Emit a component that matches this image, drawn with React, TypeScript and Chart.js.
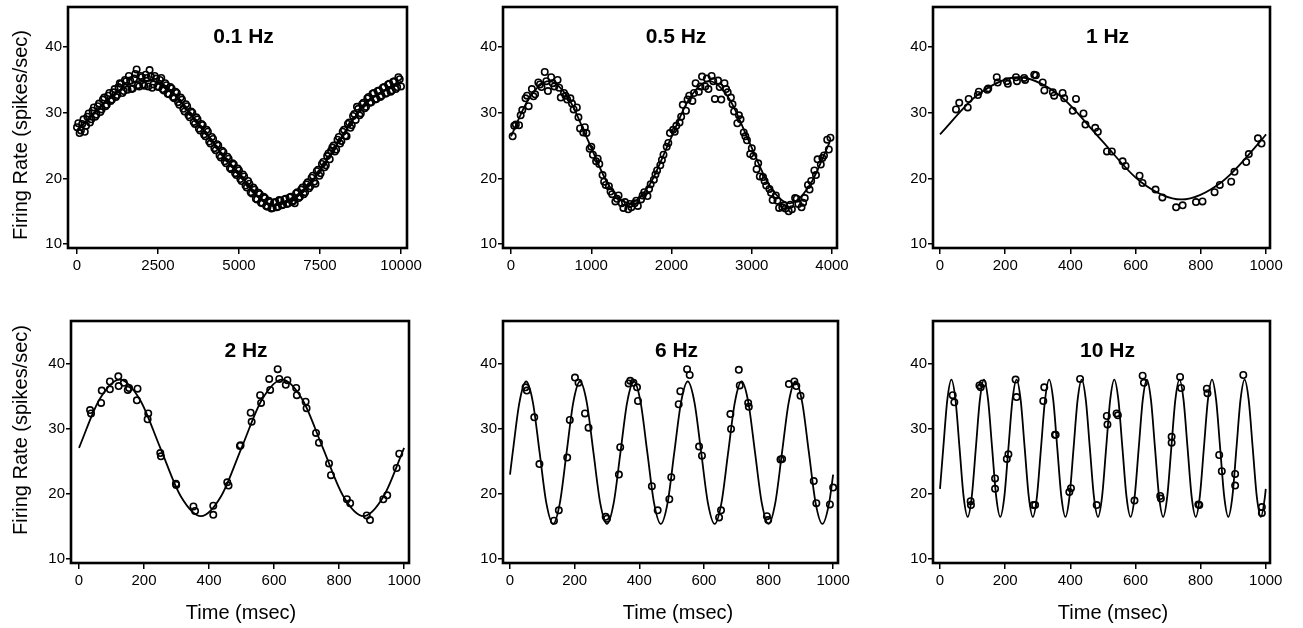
import React, { useEffect, useRef } from "react";
import { Chart, registerables } from "chart.js";

Chart.register(...registerables);

const FONT = '"Liberation Sans", Arial, Helvetica, sans-serif';

// ---------- tick labels, titles ----------
const yTicks = [10, 20, 30, 40];
const xTicks01 = [0, 2500, 5000, 7500, 10000];
const xTicks05 = [0, 1000, 2000, 3000, 4000];
const xTicks1000 = [0, 200, 400, 600, 800, 1000];
const panelTitles = ["0.1 Hz", "0.5 Hz", "1 Hz", "2 Hz", "6 Hz", "10 Hz"];
const yAxisTitle = "Firing Rate (spikes/sec)";
const xAxisTitle = "Time (msec)";

// ---------- 0.1 Hz ----------
const fit01 = [[0,27.3],[500,29.8],[1000,32.1],[1500,34.0],[2000,34.9],[2500,34.7],[3000,32.9],[3500,29.8],[4000,26.8],[4500,23.5],[5000,20.7],[5500,17.6],[6000,15.85],[6500,16.4],[7000,18.1],[7500,21.2],[8000,25.0],[8500,28.8],[9000,31.9],[9500,33.4],[10000,34.7]];
const rate01 = [[0,27.8],[80,26.9],[160,28.3],[240,27.1],[320,29.4],[400,28.5],[480,30.3],[560,29.4],[640,31.0],[720,30.1],[800,32.0],[880,31.0],[960,32.6],[1040,31.8],[1120,33.1],[1200,32.4],[1280,33.9],[1360,34.4],[1440,33.3],[1520,34.8],[1600,35.6],[1680,33.6],[1760,35.2],[1840,36.6],[1920,34.0],[2000,35.4],[2080,34.1],[2160,35.3],[2240,36.5],[2320,33.8],[2400,35.6],[2480,34.0],[2560,35.0],[2640,33.6],[2720,34.5],[2800,32.9],[2880,33.9],[2960,32.4],[3040,33.2],[3120,31.6],[3200,32.3],[3280,30.6],[3360,31.3],[3440,29.6],[3520,30.2],[3600,28.6],[3680,29.3],[3760,27.6],[3840,28.3],[3920,26.7],[4000,27.4],[4080,25.6],[4160,26.3],[4240,24.6],[4320,25.2],[4400,23.5],[4480,24.2],[4560,22.6],[4640,23.3],[4720,21.6],[4800,22.3],[4880,20.8],[4960,21.5],[5040,19.9],[5120,20.6],[5200,18.9],[5280,19.6],[5360,17.9],[5440,18.6],[5520,16.9],[5600,17.8],[5680,16.3],[5760,17.2],[5840,15.8],[5920,16.6],[6000,15.4],[6080,16.3],[6160,15.6],[6240,16.7],[6320,15.9],[6400,16.8],[6480,16.1],[6560,17.1],[6640,16.4],[6720,16.2],[6800,17.9],[6880,17.2],[6960,18.6],[7040,17.9],[7120,19.4],[7200,18.8],[7280,20.4],[7360,19.2],[7440,21.3],[7520,20.8],[7600,22.5],[7680,22.0],[7760,23.8],[7840,24.2],[7920,25.0],[8000,24.4],[8080,26.3],[8160,25.7],[8240,27.4],[8320,26.4],[8400,28.5],[8480,28.1],[8560,29.8],[8640,30.9],[8720,29.6],[8800,31.3],[8880,30.7],[8960,32.2],[9040,31.5],[9120,32.9],[9200,32.0],[9280,33.3],[9360,32.4],[9440,33.8],[9520,32.9],[9600,34.3],[9680,33.2],[9760,34.7],[9840,33.6],[9920,35.4],[10000,34.0],
[40,28.4],[120,27.3],[200,29.0],[280,28.0],[360,29.9],[440,29.0],[520,30.8],[600,29.7],[680,31.4],[760,30.5],[840,32.3],[920,31.2],[1000,33.0],[1080,32.0],[1160,33.6],[1240,32.7],[1320,34.5],[1400,33.0],[1480,35.0],[1560,33.5],[1640,34.9],[1720,33.7],[1800,35.9],[1880,34.2],[1960,35.6],[2040,34.3],[2120,35.8],[2200,34.0],[2280,35.5],[2360,34.3],[2440,35.2],[2520,33.9],[2600,35.3],[2680,33.4],[2760,34.2],[2840,32.8],[2920,33.7],[3000,32.2],[3080,33.0],[3160,31.2],[3240,32.0],[3320,30.2],[3400,31.0],[3480,29.3],[3560,30.0],[3640,28.3],[3720,29.0],[3800,27.3],[3880,28.1],[3960,26.4],[4040,27.1],[4120,25.3],[4200,26.0],[4280,24.3],[4360,25.0],[4440,23.2],[4520,24.0],[4600,22.3],[4680,23.0],[4760,21.4],[4840,22.1],[4920,20.5],[5000,21.2],[5080,19.6],[5160,20.3],[5240,18.6],[5320,19.2],[5400,17.7],[5480,18.3],[5560,16.8],[5640,17.6],[5720,16.2],[5800,17.0],[5880,15.7],[5960,16.4],[6040,15.5],[6120,16.4],[6200,15.7],[6280,16.6],[6360,16.0],[6440,16.9],[6520,16.2],[6600,17.2],[6680,16.6],[6760,17.7],[6840,17.0],[6920,18.3],[7000,17.6],[7080,19.1],[7160,18.5],[7240,20.1],[7320,19.5],[7400,21.1],[7480,20.4],[7560,22.2],[7640,21.7],[7720,23.4],[7800,22.9],[7880,24.7],[7960,24.1],[8040,25.9],[8120,25.3],[8200,27.1],[8280,26.5],[8360,28.3],[8440,27.7],[8520,29.5],[8600,28.9],[8680,30.6],[8760,29.9],[8840,31.5],[8920,30.9],[9000,32.4],[9080,31.6],[9160,33.0],[9240,32.1],[9320,33.4],[9400,32.6],[9480,33.9],[9560,33.0],[9640,34.4],[9720,33.4],[9800,34.8],[9880,33.9],[9960,35.1]];

// ---------- 0.5 Hz ----------
const fit05 = [[0,26.4],[220,32.1],[470,34.8],[720,32.1],[970,25.5],[1220,18.9],[1470,16.2],[1720,18.9],[1970,25.5],[2220,32.1],[2470,34.8],[2720,32.1],[2970,25.5],[3220,18.9],[3470,16.2],[3720,18.9],[3970,25.5]];
const rate05 = [[20,26.4],[60,28.2],[100,28.1],[140,30.4],[180,32.2],[220,31.0],[260,33.6],[300,32.8],[340,34.6],[380,33.9],[420,36.2],[460,33.3],[500,35.4],[540,34.0],[580,35.0],[620,32.3],[660,33.0],[700,32.0],[740,32.2],[780,30.5],[820,30.8],[860,27.6],[900,27.0],[940,26.9],[980,24.5],[1020,23.6],[1060,22.6],[1100,22.2],[1140,20.5],[1180,19.0],[1220,18.8],[1260,17.6],[1300,16.5],[1340,17.4],[1380,16.2],[1420,16.4],[1460,15.3],[1500,15.6],[1540,16.2],[1580,15.8],[1620,16.8],[1660,17.9],[1700,17.3],[1740,19.1],[1780,19.8],[1820,21.2],[1860,22.0],[1900,23.6],[1940,24.8],[1980,26.9],[2020,27.4],[2060,28.0],[2100,28.5],[2140,31.2],[2180,30.3],[2220,32.6],[2260,31.8],[2300,34.5],[2340,33.2],[2380,35.5],[2420,34.0],[2460,33.6],[2500,35.6],[2540,32.1],[2580,34.9],[2620,32.0],[2660,34.5],[2700,33.1],[2740,32.3],[2780,30.2],[2820,28.4],[2860,29.0],[2900,27.0],[2940,25.8],[2980,23.7],[3020,23.4],[3060,21.4],[3100,20.3],[3140,20.2],[3180,18.9],[3220,18.4],[3260,16.7],[3300,17.4],[3340,15.5],[3380,15.6],[3420,15.4],[3460,15.0],[3500,15.3],[3540,17.0],[3580,16.1],[3620,15.6],[3660,17.0],[3700,19.0],[3740,19.6],[3780,21.2],[3820,22.9],[3860,22.1],[3900,23.5],[3940,25.9],[3980,26.2],
[40,28.0],[120,29.6],[200,32.6],[280,32.5],[360,34.3],[440,34.8],[520,34.5],[600,33.8],[680,32.6],[760,31.4],[840,29.3],[920,27.8],[1000,24.8],[1080,23.0],[1160,19.5],[1240,18.0],[1320,16.9],[1400,15.5],[1480,16.1],[1560,16.6],[1640,17.4],[1720,18.4],[1800,20.6],[1880,22.8],[1960,25.4],[2040,27.1],[2120,29.4],[2200,32.0],[2280,33.0],[2360,34.0],[2440,35.2],[2520,34.8],[2600,33.9],[2680,33.6],[2760,31.3],[2840,29.6],[2920,26.4],[3000,24.6],[3080,22.3],[3160,19.6],[3240,17.8],[3320,16.6],[3400,15.9],[3480,16.0],[3560,16.9],[3640,16.3],[3720,18.3],[3800,20.5],[3880,23.1],[3960,24.4]];

// ---------- 1 Hz ----------
const fit1 = [[0,26.7],[115,32.7],[240,35.4],[365,32.7],[490,26.1],[615,19.5],[740,16.8],[865,19.5],[990,26.1],[1000,26.7]];
const rate1 = [[49,30.5],[59,31.5],[85,30.8],[88,32.1],[116,32.7],[119,33.2],[145,33.5],[148,33.7],[174,35.4],[177,34.6],[205,34.8],[208,34.4],[233,35.4],[236,34.8],[258,35.3],[261,35.0],[289,35.8],[294,35.7],[315,34.6],[320,33.4],[346,33.1],[350,32.6],[376,33.0],[381,32.2],[407,30.3],[417,32.1],[440,29.9],[446,28.2],[476,27.7],[484,27.1],[512,24.1],[527,24.1],[560,22.6],[569,21.9],[612,20.4],[621,19.3],[661,18.3],[682,17.1],[724,15.6],[744,15.9],[785,16.4],[805,16.5],[842,17.9],[858,19.0],[893,19.5],[903,21.0],[939,22.5],[947,23.7],[975,26.1],[986,25.3]];

// ---------- 2 Hz ----------
const fit2 = [[0,27.1],[62.5,34.5],[125,37.6],[187.5,34.5],[250,27.1],[312.5,19.7],[375,16.6],[437.5,19.7],[500,27.1],[562.5,34.5],[625,37.6],[687.5,34.5],[750,27.1],[812.5,19.7],[875,16.6],[937.5,19.7],[1000,27.1]];
const rate2 = [[34,32.9],[37,32.4],[68,34.0],[70,35.9],[95,37.3],[95,36.1],[121,38.1],[122,36.6],[138,37.1],[150,36.0],[154,36.3],[180,36.2],[178,34.4],[213,32.4],[211,31.5],[250,26.3],[252,25.8],[298,21.6],[299,21.4],[352,18.1],[357,17.4],[413,18.2],[413,16.8],[456,21.8],[460,21.3],[495,27.4],[497,27.5],[528,32.5],[531,31.1],[557,35.2],[560,34.0],[585,37.7],[588,36.0],[611,39.2],[616,37.7],[636,36.8],[641,37.5],[668,36.3],[670,35.2],[697,34.2],[700,33.2],[729,29.4],[738,27.9],[769,24.7],[775,22.9],[824,19.2],[834,18.6],[885,16.7],[895,16.0],[936,19.2],[948,19.8],[977,24.0],[985,26.2]];

// ---------- 6 Hz ----------
const fit6 = [[0,23.0],[8.3,26.35],[29.2,34.1],[50,37.3],[70.8,34.1],[91.7,26.35],[112.5,18.6],[133.3,15.4],[154.2,18.6],
[175,26.35],[195.8,34.1],[216.7,37.3],[237.5,34.1],[258.3,26.35],[279.2,18.6],[300,15.4],[320.8,18.6],
[341.7,26.35],[362.5,34.1],[383.3,37.3],[404.2,34.1],[425,26.35],[445.8,18.6],[466.7,15.4],[487.5,18.6],
[508.3,26.35],[529.2,34.1],[550,37.3],[570.8,34.1],[591.7,26.35],[612.5,18.6],[633.3,15.4],[654.2,18.6],
[675,26.35],[695.8,34.1],[716.7,37.3],[737.5,34.1],[758.3,26.35],[779.2,18.6],[800,15.4],[820.8,18.6],
[841.7,26.35],[862.5,34.1],[883.3,37.3],[904.2,34.1],[925,26.35],[945.8,18.6],[966.7,15.4],[987.5,18.6],[1000,23.0]];
const rate6 = [[48,36.4],[52,35.9],[75,31.8],[91,24.6],[136,15.9],[151,17.5],[177,25.6],[185,31.4],[201,37.9],[212,37.1],[232,32.4],[243,30.2],[296,16.5],[300,16.2],[337,23.0],[341,27.2],[367,37.0],[372,37.4],[382,37.1],[393,36.4],[396,34.3],[439,21.2],[457,17.5],[493,19.2],[499,22.6],[522,33.8],[527,35.8],[548,39.2],[556,38.3],[585,27.3],[594,25.9],[647,16.4],[653,17.5],[682,32.3],[684,30.0],[708,39.1],[711,36.7],[737,34.0],[739,33.4],[795,16.6],[799,16.0],[837,25.3],[842,25.4],[863,36.9],[880,37.3],[886,36.6],[899,35.1],[940,22.0],[948,18.6],[990,18.4],[1000,21.0]];

// ---------- 10 Hz ----------
const fit10 = [[0,20.8],
[10,27.05],[22.5,34.5],[35,37.6],[47.5,34.5],[60,27.05],[72.5,19.6],[85,16.5],[97.5,19.6],
[110,27.05],[122.5,34.5],[135,37.6],[147.5,34.5],[160,27.05],[172.5,19.6],[185,16.5],[197.5,19.6],
[210,27.05],[222.5,34.5],[235,37.6],[247.5,34.5],[260,27.05],[272.5,19.6],[285,16.5],[297.5,19.6],
[310,27.05],[322.5,34.5],[335,37.6],[347.5,34.5],[360,27.05],[372.5,19.6],[385,16.5],[397.5,19.6],
[410,27.05],[422.5,34.5],[435,37.6],[447.5,34.5],[460,27.05],[472.5,19.6],[485,16.5],[497.5,19.6],
[510,27.05],[522.5,34.5],[535,37.6],[547.5,34.5],[560,27.05],[572.5,19.6],[585,16.5],[597.5,19.6],
[610,27.05],[622.5,34.5],[635,37.6],[647.5,34.5],[660,27.05],[672.5,19.6],[685,16.5],[697.5,19.6],
[710,27.05],[722.5,34.5],[735,37.6],[747.5,34.5],[760,27.05],[772.5,19.6],[785,16.5],[797.5,19.6],
[810,27.05],[822.5,34.5],[835,37.6],[847.5,34.5],[860,27.05],[872.5,19.6],[885,16.5],[897.5,19.6],
[910,27.05],[922.5,34.5],[935,37.6],[947.5,34.5],[960,27.05],[972.5,19.6],[985,16.5],[997.5,19.6],[1000,20.8]];
const rate10 = [[39,35.2],[44,34.1],[94,18.9],[95,18.3],[121,36.7],[125,36.4],[131,37.0],[169,22.4],[169,20.8],[205,25.4],[210,26.1],[232,37.6],[235,34.9],[287,18.3],[292,18.3],[317,34.3],[320,36.4],[353,29.1],[355,29.1],[397,20.3],[402,20.9],[430,37.7],[481,18.3],[512,32.0],[514,30.7],[542,32.4],[546,32.1],[597,19.0],[622,38.2],[626,37.1],[676,19.7],[678,19.3],[711,28.8],[711,27.9],[737,38.0],[740,36.3],[793,18.4],[796,18.3],[819,36.2],[821,35.5],[857,26.0],[865,23.5],[906,23.1],[906,21.3],[931,38.3],[988,18.0],[988,17.1]];

// ---------- layout (frame rectangles in page pixels) ----------
type Box = { l: number; t: number; r: number; b: number };
const panels: { box: Box; xMin: number; xMax: number; yMin: number; yMax: number; xTicks: number[]; fit: number[][]; pts: number[][] }[] = [
  { box: { l: 68, t: 7, r: 407, b: 248 }, xMin: -278, xMax: 10185, yMin: 9.4, yMax: 46.1, xTicks: xTicks01, fit: fit01, pts: rate01 },
  { box: { l: 503, t: 7, r: 837, b: 248 }, xMin: -100, xMax: 4062, yMin: 9.4, yMax: 46.1, xTicks: xTicks05, fit: fit05, pts: rate05 },
  { box: { l: 933, t: 7, r: 1270, b: 248 }, xMin: -21.5, xMax: 1012, yMin: 9.4, yMax: 46.1, xTicks: xTicks1000, fit: fit1, pts: rate1 },
  { box: { l: 71, t: 321, r: 409, b: 563 }, xMin: -24.6, xMax: 1015, yMin: 9.4, yMax: 46.6, xTicks: xTicks1000, fit: fit2, pts: rate2 },
  { box: { l: 503, t: 321, r: 838, b: 563 }, xMin: -21.7, xMax: 1015, yMin: 9.4, yMax: 46.6, xTicks: xTicks1000, fit: fit6, pts: rate6 },
  { box: { l: 933, t: 321, r: 1270, b: 563 }, xMin: -21.5, xMax: 1013, yMin: 9.4, yMax: 46.6, xTicks: xTicks1000, fit: fit10, pts: rate10 },
];

const AXW = 60;
const AXH = 40;
const PT = 6;
const PR = 28;

function Panel(props: { idx: number }) {
  const p = panels[props.idx];
  const title = panelTitles[props.idx];
  const ref = useRef<HTMLCanvasElement>(null);
  const w = p.box.r - p.box.l + AXW + PR;
  const h = p.box.b - p.box.t + PT + AXH;

  useEffect(() => {
    const framePlugin = {
      id: "frameAndTitle",
      afterDatasetsDraw(chart: any) {
        const { ctx, chartArea: a } = chart;
        ctx.save();
        ctx.strokeStyle = "#000";
        ctx.lineWidth = 2.6;
        ctx.strokeRect(a.left, a.top, a.right - a.left, a.bottom - a.top);
        ctx.fillStyle = "#000";
        ctx.font = `bold 21px ${FONT}`;
        ctx.textAlign = "center";
        ctx.textBaseline = "middle";
        ctx.fillText(title, (a.left + a.right) / 2 + 6, a.top + 30);
        ctx.restore();
      },
    };
    const tickFont = { family: FONT, size: 15 };
    const chart = new Chart(ref.current as HTMLCanvasElement, {
      type: "scatter",
      data: {
        datasets: [
          {
            type: "line",
            data: p.fit.map(([x, y]) => ({ x, y })),
            borderColor: "#000",
            borderWidth: 1.8,
            pointRadius: 0,
            cubicInterpolationMode: "monotone",
            fill: false,
            order: 1,
          } as any,
          {
            type: "scatter",
            data: p.pts.map(([x, y]) => ({ x, y })),
            pointRadius: 3.2,
            pointBorderWidth: 1.6,
            pointBorderColor: "#000",
            pointBackgroundColor: "rgba(0,0,0,0)",
            borderColor: "#000",
            backgroundColor: "rgba(0,0,0,0)",
            order: 0,
          } as any,
        ],
      },
      options: {
        animation: false,
        responsive: false,
        devicePixelRatio: 1,
        events: [],
        layout: { padding: { top: PT, right: PR, left: 0, bottom: 0 } },
        plugins: { legend: { display: false }, tooltip: { enabled: false }, title: { display: false } },
        scales: {
          x: {
            type: "linear",
            min: p.xMin,
            max: p.xMax,
            afterBuildTicks: (s: any) => {
              s.ticks = p.xTicks.map((v) => ({ value: v }));
            },
            afterFit: (s: any) => {
              s.height = AXH;
              s.paddingLeft = 0;
              s.paddingRight = 0;
            },
            grid: { drawOnChartArea: false, drawTicks: true, tickLength: 6, color: "#000", lineWidth: 1.5 },
            border: { display: false },
            ticks: { color: "#000", font: tickFont, padding: 3, maxRotation: 0, minRotation: 0, autoSkip: false, callback: (v: any) => String(v) },
          },
          y: {
            type: "linear",
            min: p.yMin,
            max: p.yMax,
            afterBuildTicks: (s: any) => {
              s.ticks = yTicks.map((v) => ({ value: v }));
            },
            afterFit: (s: any) => {
              s.width = AXW;
              s.paddingTop = 0;
              s.paddingBottom = 0;
            },
            grid: { drawOnChartArea: false, drawTicks: true, tickLength: 5, color: "#000", lineWidth: 1.5 },
            border: { display: false },
            ticks: { color: "#000", font: tickFont, padding: 1, autoSkip: false, callback: (v: any) => String(v) },
          },
        },
      } as any,
      plugins: [framePlugin],
    });
    return () => chart.destroy();
  }, []);

  return (
    <canvas
      ref={ref}
      width={w}
      height={h}
      style={{ position: "absolute", left: p.box.l - AXW, top: p.box.t - PT, width: w, height: h }}
    />
  );
}

const labelStyle: React.CSSProperties = {
  position: "absolute",
  fontFamily: FONT,
  fontSize: 20,
  color: "#000",
  whiteSpace: "nowrap",
  lineHeight: 1,
};

export default function App() {
  return (
    <div style={{ position: "absolute", left: 0, top: 0, width: 1303, height: 628, background: "#fff", overflow: "hidden" }}>
      {panels.map((_, i) => (
        <Panel key={i} idx={i} />
      ))}
      <div style={{ ...labelStyle, left: 20, top: 135, transform: "translate(-50%, -50%) rotate(-90deg)" }}>{yAxisTitle}</div>
      <div style={{ ...labelStyle, left: 20, top: 430, transform: "translate(-50%, -50%) rotate(-90deg)" }}>{yAxisTitle}</div>
      <div style={{ ...labelStyle, left: 241, top: 612, transform: "translate(-50%, -50%)" }}>{xAxisTitle}</div>
      <div style={{ ...labelStyle, left: 678, top: 612, transform: "translate(-50%, -50%)" }}>{xAxisTitle}</div>
      <div style={{ ...labelStyle, left: 1113, top: 612, transform: "translate(-50%, -50%)" }}>{xAxisTitle}</div>
    </div>
  );
}
